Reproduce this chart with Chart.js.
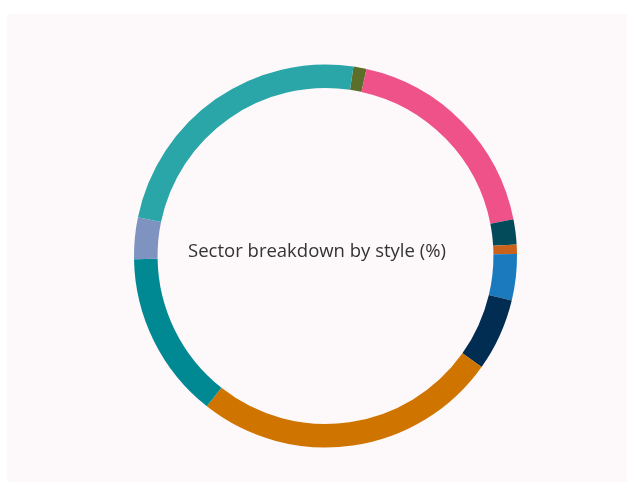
<!DOCTYPE html>
<html>
<head>
<meta charset="utf-8">
<script src="https://cdn.jsdelivr.net/npm/chart.js@4.4.1/dist/chart.umd.min.js"></script>
<style>
    html, body { margin: 0; padding: 0; background: #ffffff; }
    #wrap {
        position: absolute; left: 7px; top: 14px;
        width: 620px; height: 468px;
        background: #fdf8fa;
    }
</style>
</head>
<body>
<div id="wrap"><canvas id="chart"></canvas></div>
<script>
// sector shares in percent, clockwise from the olive slice near the top
const sectors = [
    "Utilities", "Financials", "Energy", "Real Estate", "Materials",
    "Communication", "Technology", "Health Care", "Industrials", "Consumer"
]
const shares = [1.1, 18.5, 2.1, 0.8, 3.9, 6.1, 25.8, 14.1, 3.5, 24.1]
const colors = [
    "#5b6e2a", "#ee5289", "#034b5b", "#c9621a", "#1b7abe",
    "#002d51", "#d07400", "#008893", "#7f93c0", "#2aa5a8"
]
const centerText = "Sector breakdown by style (%)"

// title sits in the middle of the panel, a little left of the ring centre
const centerLabel = {
    id: "centerLabel",
    afterDraw(chart) {
        const arc = chart.getDatasetMeta(0).data[0]
        if (!arc) return
        const ctx = chart.ctx
        ctx.save()
        ctx.font = "18.5px 'Open Sans'"
        ctx.fillStyle = "#333333"
        ctx.textAlign = "center"
        ctx.textBaseline = "middle"
        ctx.fillText(centerText, chart.width / 2, arc.y - 4)
        ctx.restore()
    }
}

new Chart(
    document.getElementById("chart"),
    {
        type: "doughnut",
        data: {
            labels: sectors,
            datasets: [
                {
                    label: "Share (%)",
                    data: shares,
                    backgroundColor: colors,
                    borderWidth: 0
                }
            ]
        },
        options: {
            responsive: true,
            maintainAspectRatio: false,
            animation: false,
            rotation: 8.4,
            cutout: "87.7%",
            layout: {
                padding: { left: 17, right: 0, top: 50.5, bottom: 34.5 }
            },
            plugins: {
                legend: { display: false },
                tooltip: { enabled: false }
            }
        },
        plugins: [centerLabel]
    }
)
</script>
</body>
</html>
